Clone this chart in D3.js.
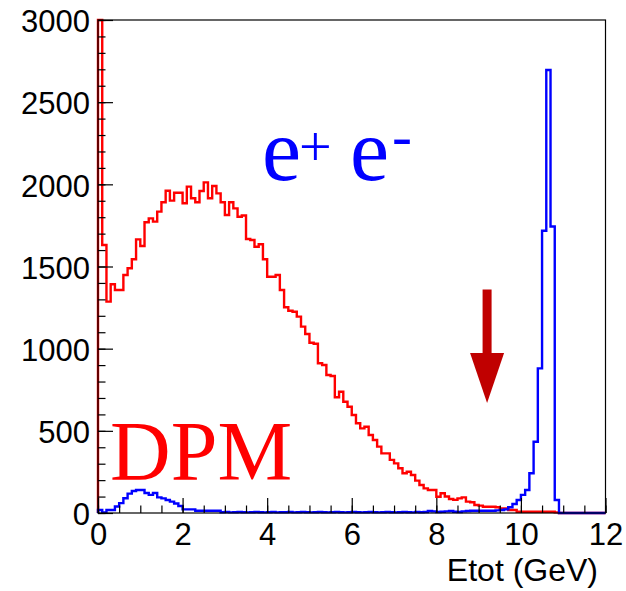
<!DOCTYPE html>
<html><head><meta charset="utf-8">
<script src="https://cdn.jsdelivr.net/npm/d3@7"></script>
<style>html,body{margin:0;padding:0;background:#fff;} svg{display:block;}</style>
</head><body><svg id="c" width="626" height="591"></svg>
<script>
// ---- data ----
const xTicks = [0, 2, 4, 6, 8, 10, 12];
const yTicks = [0, 500, 1000, 1500, 2000, 2500, 3000];
const binWidth = 0.1; // GeV, 120 bins from 0 to 12
const xTitle = "Etot (GeV)";

// DPM background (red)
const dpm = [
  4200,1631,1286,1392,1357,1357,1448,1489,1544,1665,
  1625,1769,1793,1773,1834,1891,1961,1901,1949,1949,
  1885,1986,1915,1891,1959,2012,1915,1990,1945,1891,
  1813,1891,1854,1803,1810,1667,1661,1620,1635,1544,
  1438,1438,1448,1357,1252,1231,1225,1195,1134,1089,
  1036,1030,911,901,840,834,704,738,677,647,
  596,546,515,525,475,444,404,363,363,323,
  302,272,242,251,231,197,170,150,140,140,
  99,120,100,85,80,89,95,69,65,49,
  45,38,38,38,35,28,28,18,18,8,
  8,8,8,8,8,8,8,8,4,0,
  0,0,0,0,0,0,0,0,0,0
];

// e+ e- signal (blue)
const ee = [
  18,4,18,18,40,60,90,118,134,140,
  140,122,110,122,95,89,79,69,58,43,
  22,22,22,14,14,14,14,14,14,5,
  6,4,5,6,5,4,5,6,5,4,
  5,6,4,5,5,6,4,5,6,5,
  4,5,6,5,4,5,6,5,4,5,
  6,5,4,5,6,5,4,5,6,5,
  4,5,6,5,4,6,5,6,12,10,
  6,8,10,12,8,6,10,12,14,14,
  14,14,14,14,16,18,22,35,55,79,
  110,140,242,434,880,1718,2696,1743,79,0,
  0,0,0,0,0,0,0,0,0,0
];

const arrowAt = { x: 9.2, from: 1360, to: 670 };

// ---- layout ----
const L = 98, R = 605.5, T = 20, B = 513;
const svg = d3.select("#c");
const x = d3.scaleLinear().domain([0, 12]).range([L, R]);
const y = d3.scaleLinear().domain([0, 3000]).range([B, T]);
const sans = "'Liberation Sans', Arial, Helvetica, sans-serif";
const serif = "'Liberation Serif', 'Times New Roman', Times, serif";

// histograms
function histPoints(vals) {
  const pts = [[0, 0]];
  vals.forEach((v, i) => pts.push([i * binWidth, Math.min(v, 3000)]));
  pts.push([vals.length * binWidth, 0]);
  return pts;
}
const line = d3.line()
  .x(d => x(d[0])).y(d => y(d[1]))
  .curve(d3.curveStepAfter);

svg.append("path").attr("d", line(histPoints(dpm)))
  .attr("fill", "none").attr("stroke", "#ff0000").attr("stroke-width", 2.4)
  .attr("stroke-linejoin", "miter");
svg.append("path").attr("d", line(histPoints(ee)))
  .attr("fill", "none").attr("stroke", "#0000ff").attr("stroke-width", 2.4)
  .attr("stroke-linejoin", "miter");

// frame
svg.append("rect").attr("x", L).attr("y", T).attr("width", R - L).attr("height", B - T)
  .attr("fill", "none").attr("stroke", "#000").attr("stroke-width", 1.2);

// axes
const yMinor = d3.range(0, 3001, 100);
const xMinor = d3.range(0, 12.01, 0.5);

const gy = svg.append("g").attr("transform", `translate(${L},0)`);
gy.call(d3.axisLeft(y).tickValues(yMinor).tickSize(-7.5).tickSizeOuter(0).tickFormat(""));
gy.call(g => g.select(".domain").remove());
const gy2 = svg.append("g").attr("transform", `translate(${L},0)`);
gy2.call(d3.axisLeft(y).tickValues(yTicks).tickSize(-15).tickSizeOuter(0).tickPadding(8).tickFormat(d3.format("d")));
gy2.select(".domain").remove();
gy2.selectAll("text").attr("font-family", sans).attr("font-size", 31).attr("fill", "#000").attr("dy", "0.38em");

const gx = svg.append("g").attr("transform", `translate(0,${B})`);
gx.call(d3.axisBottom(x).tickValues(xMinor).tickSize(-7.5).tickSizeOuter(0).tickFormat(""));
gx.select(".domain").remove();
const gx2 = svg.append("g").attr("transform", `translate(0,${B})`);
gx2.call(d3.axisBottom(x).tickValues(xTicks).tickSize(-15).tickSizeOuter(0).tickPadding(10).tickFormat(d3.format("d")));
gx2.select(".domain").remove();
gx2.selectAll("text").attr("font-family", sans).attr("font-size", 31).attr("fill", "#000");
svg.selectAll(".tick line").attr("stroke", "#000").attr("stroke-width", 1.2);

// axis title
svg.append("text").attr("x", 598).attr("y", 581).attr("text-anchor", "end")
  .attr("font-family", sans).attr("font-size", 32).attr("fill", "#000").text(xTitle);

// arrow
const ax = x(arrowAt.x), ay0 = y(arrowAt.from), ay1 = y(arrowAt.to);
const headH = 50, headW = 17, shaftW = 4.5;
svg.append("rect").attr("x", ax - shaftW).attr("y", ay0).attr("width", shaftW * 2)
  .attr("height", ay1 - headH - ay0 + 1).attr("fill", "#c00000");
svg.append("path")
  .attr("d", `M${ax - headW},${ay1 - headH}L${ax + headW},${ay1 - headH}L${ax},${ay1}Z`)
  .attr("fill", "#c00000");

// labels
svg.append("text").attr("x", 110).attr("y", 480).attr("font-family", serif)
  .attr("font-size", 84).attr("fill", "#ff0000").text("DPM");
const lab = [
  { t: "e", x: 262, y: 180, s: 88 },
  { t: "+", x: 299, y: 166, s: 58 },
  { t: "e", x: 350, y: 180, s: 88 },
  { t: "-", x: 392, y: 156, s: 60 }
];
svg.selectAll("text.ee").data(lab).join("text").attr("class", "ee")
  .attr("x", d => d.x).attr("y", d => d.y).attr("font-size", d => d.s)
  .attr("font-family", serif).attr("fill", "#0000ff").text(d => d.t);
</script></body></html>
